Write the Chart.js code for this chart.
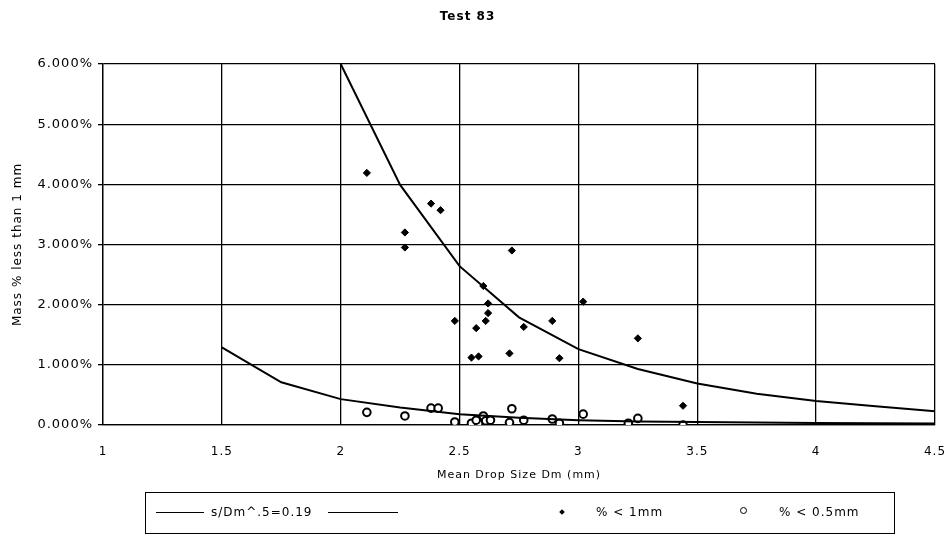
<!DOCTYPE html>
<html>
<head>
<meta charset="utf-8">
<script src="https://cdn.jsdelivr.net/npm/chart.js@4"></script>
<style>
	body { margin: 0; background: #fff; }
	#wrap { position: relative; width: 949px; height: 534px; }
	#legend {
		position: absolute; left: 145px; top: 492px; width: 750px; height: 42px;
		border: 1px solid #000; box-sizing: border-box;
		font-family: 'DejaVu Sans', sans-serif; font-size: 12px; letter-spacing: 1px; color: #000;
	}
	#legend .it { position: absolute; top: 12px; white-space: nowrap; }
	#legend .ln { position: absolute; top: 19px; height: 0; border-top: 1.5px solid #000; }
	#legend .dia { position: absolute; top: 17px; width: 4px; height: 4px; background: #000; transform: rotate(45deg); }
	#legend .circ { position: absolute; top: 14px; width: 5px; height: 5px; border: 1.5px solid #000; border-radius: 50%; background: #fff; }
</style>
</head>
<body>
<div id="wrap">
	<canvas id="chart" width="949" height="534"></canvas>
	<div id="legend">
		<div class="ln" style="left:10px;width:48px"></div>
		<div class="it" style="left:65px">s/Dm^.5=0.19</div>
		<div class="ln" style="left:182px;width:70px"></div>
		<div class="dia" style="left:414px"></div>
		<div class="it" style="left:450px">% &lt; 1mm</div>
		<div class="circ" style="left:594px"></div>
		<div class="it" style="left:633px">% &lt; 0.5mm</div>
	</div>
</div>
<script>
// krzywa graniczna s/Dm^.5 = 0.19 (górna) i ta sama dla frakcji 0.5mm (dolna)
const upperX = [2, 2.25, 2.5, 2.75, 3, 3.25, 3.5, 3.75, 4, 4.25, 4.5];
const upperY = [6.0, 3.99, 2.64, 1.79, 1.26, 0.93, 0.69, 0.52, 0.40, 0.31, 0.23];
const lowerX = [1.5, 1.75, 2, 2.25, 2.5, 2.75, 3, 3.25, 3.5, 3.75, 4, 4.25, 4.5];
const lowerY = [1.29, 0.71, 0.43, 0.29, 0.18, 0.12, 0.08, 0.06, 0.05, 0.04, 0.035, 0.03, 0.025];

// punkty pomiarowe: % < 1mm
const under1X = [2.11, 2.27, 2.27, 2.38, 2.42, 2.72, 2.60, 2.62, 2.62, 2.61, 2.48,
	2.57, 2.77, 2.89, 3.02, 2.55, 2.58, 2.71, 2.92, 3.25, 3.44];
const under1Y = [4.19, 3.20, 2.95, 3.68, 3.57, 2.90, 2.31, 2.02, 1.86, 1.73, 1.73,
	1.61, 1.63, 1.73, 2.05, 1.12, 1.14, 1.19, 1.11, 1.44, 0.32];

// punkty pomiarowe: % < 0.5mm
const under05X = [2.11, 2.27, 2.38, 2.41, 2.48, 2.55, 2.58, 2.57, 2.60, 2.61,
	2.63, 2.71, 2.72, 2.77, 2.89, 2.92, 3.02, 3.21, 3.25, 3.44];
const under05Y = [0.21, 0.15, 0.28, 0.28, 0.05, 0.03, 0.03, 0.08, 0.15, 0.07,
	0.08, 0.04, 0.27, 0.08, 0.10, 0.03, 0.18, 0.03, 0.11, 0.00];

const xTicks = [1, 1.5, 2, 2.5, 3, 3.5, 4, 4.5];

const toPoints = (xs, ys) => xs.map((x, i) => ({ x, y: ys[i] }));

const font = 'DejaVu Sans, sans-serif';

// odstęp między literami jak w oryginale (szeroka czcionka)
const spacing = {
	id: 'spacing',
	beforeDraw(chart) {
		chart.ctx.letterSpacing = '1px';
	},
};

new Chart(document.getElementById('chart').getContext('2d'), {
	type: 'scatter',
	data: {
		datasets: [
			{
				label: 's/Dm^.5=0.19',
				data: toPoints(upperX, upperY),
				showLine: true,
				borderColor: '#000',
				borderWidth: 2,
				pointRadius: 0,
				tension: 0,
			},
			{
				label: 's/Dm^.5=0.19 (0.5mm)',
				data: toPoints(lowerX, lowerY),
				showLine: true,
				borderColor: '#000',
				borderWidth: 2,
				pointRadius: 0,
				tension: 0,
			},
			{
				label: '% < 1mm',
				data: toPoints(under1X, under1Y),
				pointStyle: 'rectRot',
				pointRadius: 3.6,
				backgroundColor: '#000',
				borderColor: '#000',
				borderWidth: 1,
			},
			{
				label: '% < 0.5mm',
				data: toPoints(under05X, under05Y),
				pointStyle: 'circle',
				pointRadius: 3.8,
				backgroundColor: '#fff',
				borderColor: '#000',
				borderWidth: 2,
			},
		],
	},
	options: {
		responsive: false,
		animation: false,
		layout: { padding: { left: 0, right: 14, top: 0, bottom: 52 } },
		plugins: {
			legend: { display: false },
			tooltip: { enabled: false },
			title: {
				display: true,
				text: 'Test 83',
				color: '#000',
				font: { family: font, size: 12, weight: 'bold' },
				padding: { top: 10, bottom: 39.6 },
			},
		},
		scales: {
			x: {
				type: 'linear',
				min: 1,
				max: 4.5,
				afterBuildTicks: (axis) => {
					axis.ticks = xTicks.map((v) => ({ value: v }));
				},
				afterFit: (axis) => {
					axis.height = 57;
					axis.paddingLeft = 0;
					axis.paddingRight = 0;
				},
				ticks: {
					color: '#000',
					font: { family: font, size: 12 },
					padding: 20,
					maxRotation: 0,
					callback: (v) => String(v),
				},
				grid: { color: '#000', lineWidth: 1.3, drawTicks: false },
				border: { color: '#000', width: 1.3 },
				title: {
					display: true,
					text: 'Mean Drop Size Dm (mm)',
					color: '#000',
					font: { family: font, size: 11 },
					padding: 0,
				},
			},
			y: {
				min: 0,
				max: 6,
				ticks: {
					stepSize: 1,
					color: '#000',
					font: { family: font, size: 13 },
					padding: 5,
					callback: (v) => v.toFixed(3) + '%',
				},
				afterFit: (axis) => {
					axis.width = 103;
				},
				grid: { color: '#000', lineWidth: 1.3, tickLength: 5 },
				border: { color: '#000', width: 1.3 },
				title: {
					display: true,
					text: 'Mass % less than 1 mm',
					color: '#000',
					font: { family: font, size: 12 },
					padding: { top: 11, bottom: 0 },
				},
			},
		},
	},
	plugins: [spacing],
});
</script>
</body>
</html>
